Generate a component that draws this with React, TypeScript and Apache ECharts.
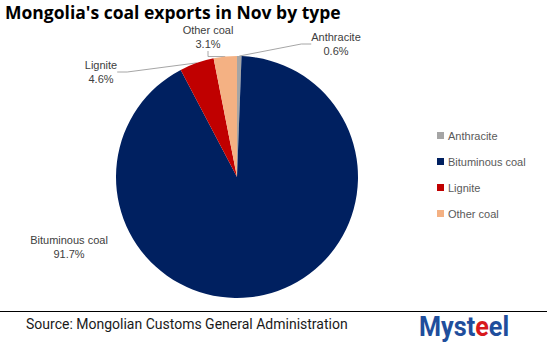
import React, { useEffect, useRef } from "react";
import * as echarts from "echarts";

const categories = ["Anthracite", "Bituminous coal", "Lignite", "Other coal"];
const shares = [0.6, 91.7, 4.6, 3.1];
const colors = ["#A5A5A5", "#002060", "#C00000", "#F4B183"];
const labelPos = [
  [336, 44],
  [69, 247],
  [101, 72],
  [208, 37],
];

export default function App() {
  const ref = useRef<HTMLDivElement>(null);
  useEffect(() => {
    document.body.style.margin = "0";
    const chart = echarts.init(ref.current!, null, { renderer: "svg" });
    const font = "'Liberation Sans', 'DejaVu Sans', sans-serif";
    chart.setOption({
      animation: false,
      backgroundColor: "#ffffff",
      title: {
        text: "Mongolia's coal exports in Nov by type",
        left: 5,
        top: 3,
        padding: 0,
        textStyle: { fontFamily: "'Open Sans'", fontWeight: "bold", fontSize: 17.5, lineHeight: 17, color: "#000000" },
      },
      legend: {
        orient: "vertical",
        left: 437,
        top: 130,
        padding: 0,
        itemWidth: 7,
        itemHeight: 7,
        itemGap: 15,
        icon: "rect",
        data: categories,
        textStyle: { fontFamily: font, fontSize: 11, color: "#595959", padding: [0, 0, 0, -1] },
      },
      series: [
        {
          type: "pie",
          center: [237, 177],
          radius: 121,
          startAngle: 90,
          clockwise: true,
          avoidLabelOverlap: false,
          data: categories.map((c, i) => ({
            name: c,
            value: shares[i],
            itemStyle: { color: colors[i] },
            labelLine: { show: i !== 1 },
          })),
          label: {
            show: true,
            formatter: (p: any) => `${p.name}\n${p.value.toFixed(1)}%`,
            fontFamily: font,
            fontSize: 11,
            lineHeight: 14,
            color: "#404040",
            align: "center",
          },
          labelLine: {
            show: true,
            length: 10,
            length2: 10,
            lineStyle: { color: "#A6A6A6", width: 1 },
          },
          labelLayout: (params: any) => {
            const pos = labelPos[params.dataIndex];
            return { x: pos[0], y: pos[1], align: "center", verticalAlign: "middle" };
          },
        },
      ],
      graphic: [
        {
          type: "line",
          shape: { x1: 0, y1: 311.5, x2: 547, y2: 311.5 },
          style: { stroke: "#000000", lineWidth: 1 },
        },
        {
          type: "text",
          x: 26,
          y: 317,
          style: {
            text: "Source: Mongolian Customs General Administration",
            fontFamily: "Roboto",
            fontSize: 14,
            fill: "#1a1a1a",
          },
        },
        {
          type: "text",
          x: 419,
          y: 313,
          scaleX: 0.9,
          style: {
            text: "{b|Myst}{r|e}{b|el}",
            rich: {
              b: { fontFamily: "Roboto", fontWeight: "bold", fontSize: 28, fill: "#1F4E9C", color: "#1F4E9C" },
              r: { fontFamily: "Roboto", fontWeight: "bold", fontSize: 28, fill: "#D7191C", color: "#D7191C" },
            },
          },
        },
      ],
    });
    return () => chart.dispose();
  }, []);
  return <div ref={ref} style={{ position: "fixed", left: 0, top: 0, width: 547, height: 356 }} />;
}
